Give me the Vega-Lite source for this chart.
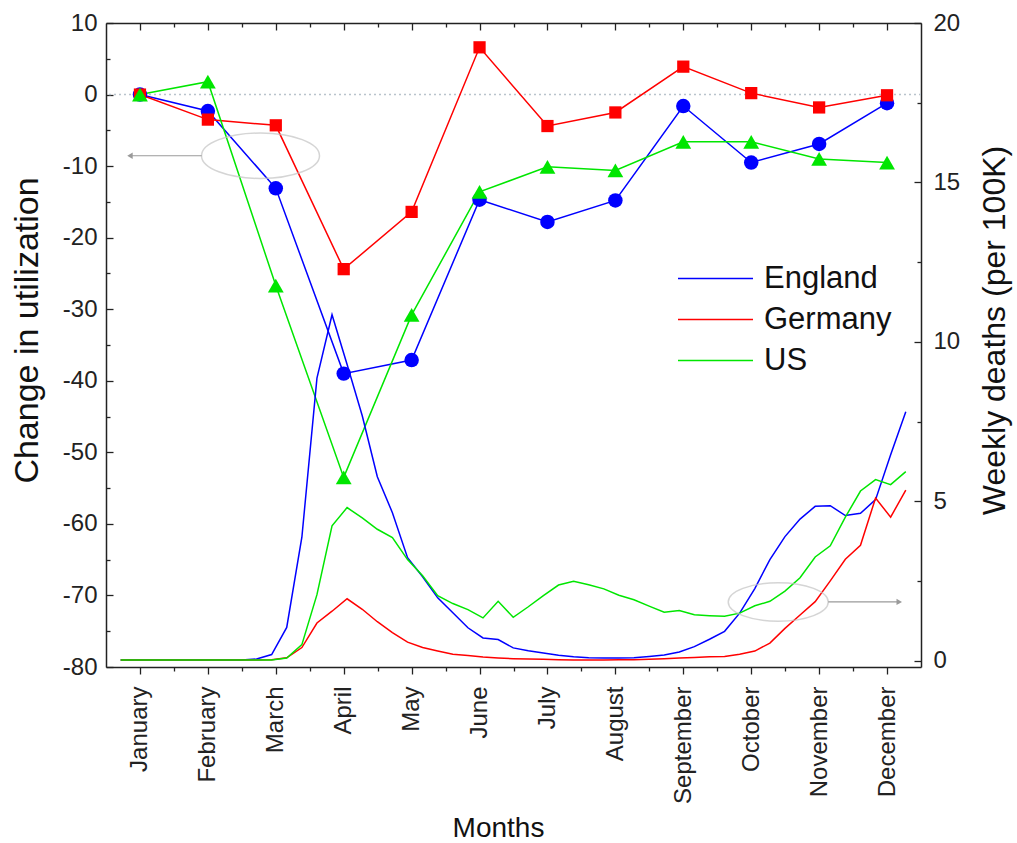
{
  "$schema": "https://vega.github.io/schema/vega-lite/v6.json",
  "width": 815,
  "height": 644,
  "autosize": {"type": "none"},
  "padding": {"left": 106, "top": 23, "right": 96, "bottom": 176},
  "background": "white",
  "config": {
    "view": {"stroke": null},
    "font": "Liberation Sans",
    "axis": {"domainColor": "#222222", "tickColor": "#222222", "labelColor": "#222222", "titleColor": "#111111", "grid": false, "titleFontWeight": "normal", "domainWidth": 1.5, "tickWidth": 1.3, "labelFlush": false, "labelOverlap": false},
    "legend": {"labelColor": "#111111"}
  },
  "datasets": {
    "util": [
      {"country": "England", "month": 1, "change": 0},
      {"country": "England", "month": 2, "change": -2.3},
      {"country": "England", "month": 3, "change": -13.1},
      {"country": "England", "month": 4, "change": -39.0},
      {"country": "England", "month": 5, "change": -37.1},
      {"country": "England", "month": 6, "change": -14.7},
      {"country": "England", "month": 7, "change": -17.8},
      {"country": "England", "month": 8, "change": -14.8},
      {"country": "England", "month": 9, "change": -1.6},
      {"country": "England", "month": 10, "change": -9.5},
      {"country": "England", "month": 11, "change": -6.9},
      {"country": "England", "month": 12, "change": -1.2},
      {"country": "Germany", "month": 1, "change": 0},
      {"country": "Germany", "month": 2, "change": -3.5},
      {"country": "Germany", "month": 3, "change": -4.3},
      {"country": "Germany", "month": 4, "change": -24.4},
      {"country": "Germany", "month": 5, "change": -16.4},
      {"country": "Germany", "month": 6, "change": 6.6},
      {"country": "Germany", "month": 7, "change": -4.4},
      {"country": "Germany", "month": 8, "change": -2.5},
      {"country": "Germany", "month": 9, "change": 3.9},
      {"country": "Germany", "month": 10, "change": 0.2},
      {"country": "Germany", "month": 11, "change": -1.8},
      {"country": "Germany", "month": 12, "change": -0.1},
      {"country": "US", "month": 1, "change": 0},
      {"country": "US", "month": 2, "change": 1.8},
      {"country": "US", "month": 3, "change": -26.7},
      {"country": "US", "month": 4, "change": -53.5},
      {"country": "US", "month": 5, "change": -30.8},
      {"country": "US", "month": 6, "change": -13.6},
      {"country": "US", "month": 7, "change": -10.1},
      {"country": "US", "month": 8, "change": -10.6},
      {"country": "US", "month": 9, "change": -6.6},
      {"country": "US", "month": 10, "change": -6.6},
      {"country": "US", "month": 11, "change": -9.0},
      {"country": "US", "month": 12, "change": -9.5}
    ],
    "deaths": [
      {"country": "England", "t": 0.716, "deaths": 0.02},
      {"country": "England", "t": 0.939, "deaths": 0.02},
      {"country": "England", "t": 1.161, "deaths": 0.02},
      {"country": "England", "t": 1.383, "deaths": 0.02},
      {"country": "England", "t": 1.605, "deaths": 0.02},
      {"country": "England", "t": 1.828, "deaths": 0.02},
      {"country": "England", "t": 2.050, "deaths": 0.02},
      {"country": "England", "t": 2.272, "deaths": 0.02},
      {"country": "England", "t": 2.494, "deaths": 0.02},
      {"country": "England", "t": 2.717, "deaths": 0.05},
      {"country": "England", "t": 2.939, "deaths": 0.19},
      {"country": "England", "t": 3.161, "deaths": 1.04},
      {"country": "England", "t": 3.384, "deaths": 3.87},
      {"country": "England", "t": 3.606, "deaths": 8.86},
      {"country": "England", "t": 3.828, "deaths": 10.85},
      {"country": "England", "t": 4.050, "deaths": 9.29},
      {"country": "England", "t": 4.273, "deaths": 7.68},
      {"country": "England", "t": 4.495, "deaths": 5.77},
      {"country": "England", "t": 4.717, "deaths": 4.64},
      {"country": "England", "t": 4.940, "deaths": 3.23},
      {"country": "England", "t": 5.162, "deaths": 2.63},
      {"country": "England", "t": 5.384, "deaths": 1.97},
      {"country": "England", "t": 5.607, "deaths": 1.50},
      {"country": "England", "t": 5.829, "deaths": 1.03},
      {"country": "England", "t": 6.051, "deaths": 0.71},
      {"country": "England", "t": 6.274, "deaths": 0.66},
      {"country": "England", "t": 6.496, "deaths": 0.40},
      {"country": "England", "t": 6.718, "deaths": 0.31},
      {"country": "England", "t": 6.940, "deaths": 0.24},
      {"country": "England", "t": 7.163, "deaths": 0.17},
      {"country": "England", "t": 7.385, "deaths": 0.12},
      {"country": "England", "t": 7.607, "deaths": 0.09},
      {"country": "England", "t": 7.830, "deaths": 0.08},
      {"country": "England", "t": 8.052, "deaths": 0.08},
      {"country": "England", "t": 8.274, "deaths": 0.09},
      {"country": "England", "t": 8.497, "deaths": 0.13},
      {"country": "England", "t": 8.719, "deaths": 0.18},
      {"country": "England", "t": 8.941, "deaths": 0.27},
      {"country": "England", "t": 9.163, "deaths": 0.44},
      {"country": "England", "t": 9.386, "deaths": 0.67},
      {"country": "England", "t": 9.608, "deaths": 0.92},
      {"country": "England", "t": 9.830, "deaths": 1.49},
      {"country": "England", "t": 10.053, "deaths": 2.26},
      {"country": "England", "t": 10.275, "deaths": 3.17},
      {"country": "England", "t": 10.497, "deaths": 3.89},
      {"country": "England", "t": 10.719, "deaths": 4.44},
      {"country": "England", "t": 10.942, "deaths": 4.84},
      {"country": "England", "t": 11.164, "deaths": 4.86},
      {"country": "England", "t": 11.386, "deaths": 4.55},
      {"country": "England", "t": 11.609, "deaths": 4.62},
      {"country": "England", "t": 11.831, "deaths": 5.05},
      {"country": "England", "t": 12.053, "deaths": 6.46},
      {"country": "England", "t": 12.276, "deaths": 7.81},
      {"country": "Germany", "t": 0.716, "deaths": 0.02},
      {"country": "Germany", "t": 0.939, "deaths": 0.02},
      {"country": "Germany", "t": 1.161, "deaths": 0.02},
      {"country": "Germany", "t": 1.383, "deaths": 0.02},
      {"country": "Germany", "t": 1.605, "deaths": 0.02},
      {"country": "Germany", "t": 1.828, "deaths": 0.02},
      {"country": "Germany", "t": 2.050, "deaths": 0.02},
      {"country": "Germany", "t": 2.272, "deaths": 0.02},
      {"country": "Germany", "t": 2.494, "deaths": 0.02},
      {"country": "Germany", "t": 2.717, "deaths": 0.02},
      {"country": "Germany", "t": 2.939, "deaths": 0.03},
      {"country": "Germany", "t": 3.161, "deaths": 0.09},
      {"country": "Germany", "t": 3.384, "deaths": 0.41},
      {"country": "Germany", "t": 3.606, "deaths": 1.18},
      {"country": "Germany", "t": 3.828, "deaths": 1.55},
      {"country": "Germany", "t": 4.050, "deaths": 1.94},
      {"country": "Germany", "t": 4.273, "deaths": 1.61},
      {"country": "Germany", "t": 4.495, "deaths": 1.22},
      {"country": "Germany", "t": 4.717, "deaths": 0.88},
      {"country": "Germany", "t": 4.940, "deaths": 0.58},
      {"country": "Germany", "t": 5.162, "deaths": 0.41},
      {"country": "Germany", "t": 5.384, "deaths": 0.30},
      {"country": "Germany", "t": 5.607, "deaths": 0.20},
      {"country": "Germany", "t": 5.829, "deaths": 0.16},
      {"country": "Germany", "t": 6.051, "deaths": 0.11},
      {"country": "Germany", "t": 6.274, "deaths": 0.08},
      {"country": "Germany", "t": 6.496, "deaths": 0.06},
      {"country": "Germany", "t": 6.718, "deaths": 0.05},
      {"country": "Germany", "t": 6.940, "deaths": 0.04},
      {"country": "Germany", "t": 7.163, "deaths": 0.03},
      {"country": "Germany", "t": 7.385, "deaths": 0.02},
      {"country": "Germany", "t": 7.607, "deaths": 0.02},
      {"country": "Germany", "t": 7.830, "deaths": 0.02},
      {"country": "Germany", "t": 8.052, "deaths": 0.03},
      {"country": "Germany", "t": 8.274, "deaths": 0.03},
      {"country": "Germany", "t": 8.497, "deaths": 0.04},
      {"country": "Germany", "t": 8.719, "deaths": 0.06},
      {"country": "Germany", "t": 8.941, "deaths": 0.08},
      {"country": "Germany", "t": 9.163, "deaths": 0.10},
      {"country": "Germany", "t": 9.386, "deaths": 0.12},
      {"country": "Germany", "t": 9.608, "deaths": 0.13},
      {"country": "Germany", "t": 9.830, "deaths": 0.20},
      {"country": "Germany", "t": 10.053, "deaths": 0.30},
      {"country": "Germany", "t": 10.275, "deaths": 0.55},
      {"country": "Germany", "t": 10.497, "deaths": 1.01},
      {"country": "Germany", "t": 10.719, "deaths": 1.43},
      {"country": "Germany", "t": 10.942, "deaths": 1.85},
      {"country": "Germany", "t": 11.164, "deaths": 2.50},
      {"country": "Germany", "t": 11.386, "deaths": 3.18},
      {"country": "Germany", "t": 11.609, "deaths": 3.62},
      {"country": "Germany", "t": 11.831, "deaths": 5.10},
      {"country": "Germany", "t": 12.053, "deaths": 4.50},
      {"country": "Germany", "t": 12.276, "deaths": 5.35},
      {"country": "US", "t": 0.716, "deaths": 0.02},
      {"country": "US", "t": 0.939, "deaths": 0.02},
      {"country": "US", "t": 1.161, "deaths": 0.02},
      {"country": "US", "t": 1.383, "deaths": 0.02},
      {"country": "US", "t": 1.605, "deaths": 0.02},
      {"country": "US", "t": 1.828, "deaths": 0.02},
      {"country": "US", "t": 2.050, "deaths": 0.02},
      {"country": "US", "t": 2.272, "deaths": 0.02},
      {"country": "US", "t": 2.494, "deaths": 0.02},
      {"country": "US", "t": 2.717, "deaths": 0.02},
      {"country": "US", "t": 2.939, "deaths": 0.02},
      {"country": "US", "t": 3.161, "deaths": 0.08},
      {"country": "US", "t": 3.384, "deaths": 0.50},
      {"country": "US", "t": 3.606, "deaths": 2.07},
      {"country": "US", "t": 3.828, "deaths": 4.23},
      {"country": "US", "t": 4.050, "deaths": 4.80},
      {"country": "US", "t": 4.273, "deaths": 4.48},
      {"country": "US", "t": 4.495, "deaths": 4.12},
      {"country": "US", "t": 4.717, "deaths": 3.86},
      {"country": "US", "t": 4.940, "deaths": 3.17},
      {"country": "US", "t": 5.162, "deaths": 2.66},
      {"country": "US", "t": 5.384, "deaths": 2.04},
      {"country": "US", "t": 5.607, "deaths": 1.79},
      {"country": "US", "t": 5.829, "deaths": 1.60},
      {"country": "US", "t": 6.051, "deaths": 1.34},
      {"country": "US", "t": 6.274, "deaths": 1.86},
      {"country": "US", "t": 6.496, "deaths": 1.36},
      {"country": "US", "t": 6.718, "deaths": 1.69},
      {"country": "US", "t": 6.940, "deaths": 2.04},
      {"country": "US", "t": 7.163, "deaths": 2.37},
      {"country": "US", "t": 7.385, "deaths": 2.49},
      {"country": "US", "t": 7.607, "deaths": 2.38},
      {"country": "US", "t": 7.830, "deaths": 2.25},
      {"country": "US", "t": 8.052, "deaths": 2.05},
      {"country": "US", "t": 8.274, "deaths": 1.91},
      {"country": "US", "t": 8.497, "deaths": 1.71},
      {"country": "US", "t": 8.719, "deaths": 1.52},
      {"country": "US", "t": 8.941, "deaths": 1.57},
      {"country": "US", "t": 9.163, "deaths": 1.44},
      {"country": "US", "t": 9.386, "deaths": 1.41},
      {"country": "US", "t": 9.608, "deaths": 1.39},
      {"country": "US", "t": 9.830, "deaths": 1.49},
      {"country": "US", "t": 10.053, "deaths": 1.72},
      {"country": "US", "t": 10.275, "deaths": 1.86},
      {"country": "US", "t": 10.497, "deaths": 2.18},
      {"country": "US", "t": 10.719, "deaths": 2.60},
      {"country": "US", "t": 10.942, "deaths": 3.25},
      {"country": "US", "t": 11.164, "deaths": 3.60},
      {"country": "US", "t": 11.386, "deaths": 4.50},
      {"country": "US", "t": 11.609, "deaths": 5.32},
      {"country": "US", "t": 11.831, "deaths": 5.68},
      {"country": "US", "t": 12.053, "deaths": 5.52},
      {"country": "US", "t": 12.276, "deaths": 5.93}
    ],
    "annL": [{"x": 2.775, "y": -8.55, "xa": 1.909, "xt": 0.853}],
    "annR": [{"x": 10.398, "y": 1.84, "xa": 11.134, "xt": 12.18}]
  },
  "layer": [
    {
      "layer": [
        {
          "data": {"values": [{"v": 0}]},
          "mark": {"type": "rule", "color": "#b9c3cc", "strokeDash": [2, 3], "strokeWidth": 1.5},
          "encoding": {
            "y": {"field": "v", "type": "quantitative", "scale": {"domain": [-80, 10], "nice": false, "zero": false}}
          }
        },
        {
          "data": {"name": "util"},
          "mark": {"type": "line", "strokeWidth": 1.5},
          "encoding": {
            "x": {
              "field": "month", "type": "quantitative",
              "scale": {"domain": [0.5, 12.5], "nice": false, "zero": false},
              "axis": {
                "orient": "bottom", "values": [1, 2, 3, 4, 5, 6, 7, 8, 9, 10, 11, 12],
                "tickSize": 7, "labelAngle": -90, "labelAlign": "right", "labelBaseline": "middle",
                "labelPadding": 12, "labelFontSize": 24,
                "labelExpr": "['January','February','March','April','May','June','July','August','September','October','November','December'][round(datum.value)-1]",
                "title": "Months", "titleFontSize": 28, "titleX": 392, "titleY": 161, "titleAlign": "center", "titleBaseline": "middle"
              }
            },
            "y": {
              "field": "change", "type": "quantitative",
              "scale": {"domain": [-80, 10], "nice": false, "zero": false},
              "axis": {
                "orient": "left", "values": [-80, -70, -60, -50, -40, -30, -20, -10, 0, 10],
                "labelExpr": "'' + datum.value",
                "tickSize": -7, "labelPadding": 16, "labelFontSize": 24,
                "title": "Change in utilization", "titleFontSize": 34, "titleAngle": -90,
                "titleX": -79, "titleY": 307, "titleAlign": "center", "titleBaseline": "middle"
              }
            },
            "color": {
              "field": "country", "type": "nominal",
              "scale": {"domain": ["England", "Germany", "US"], "range": ["#0000ff", "#ff0000", "#00e600"]},
              "legend": {
                "orient": "none", "legendX": 594, "legendY": 240, "title": null,
                "symbolType": "M-5,0L5,0", "symbolSize": 225, "symbolStrokeWidth": 1.5,
                "labelFontSize": 31, "labelOffset": 33, "rowPadding": 9, "labelLimit": 0
              }
            }
          }
        },
        {
          "data": {"name": "util"},
          "transform": [{"filter": "datum.country === 'England'"}],
          "mark": {"type": "point", "shape": "circle", "filled": true, "color": "#0000ff", "size": 210, "opacity": 1, "strokeWidth": 0},
          "encoding": {
            "x": {"field": "month", "type": "quantitative", "scale": {"domain": [0.5, 12.5], "nice": false, "zero": false}},
            "y": {"field": "change", "type": "quantitative", "scale": {"domain": [-80, 10], "nice": false, "zero": false}}
          }
        },
        {
          "data": {"name": "util"},
          "transform": [{"filter": "datum.country === 'Germany'"}],
          "mark": {"type": "point", "shape": "square", "filled": true, "color": "#ff0000", "size": 150, "opacity": 1, "strokeWidth": 0},
          "encoding": {
            "x": {"field": "month", "type": "quantitative", "scale": {"domain": [0.5, 12.5], "nice": false, "zero": false}},
            "y": {"field": "change", "type": "quantitative", "scale": {"domain": [-80, 10], "nice": false, "zero": false}}
          }
        },
        {
          "data": {"name": "util"},
          "transform": [{"filter": "datum.country === 'US'"}],
          "mark": {"type": "point", "shape": "triangle-up", "filled": true, "color": "#00e600", "size": 250, "opacity": 1, "strokeWidth": 0},
          "encoding": {
            "x": {"field": "month", "type": "quantitative", "scale": {"domain": [0.5, 12.5], "nice": false, "zero": false}},
            "y": {"field": "change", "type": "quantitative", "scale": {"domain": [-80, 10], "nice": false, "zero": false}}
          }
        },
        {
          "data": {"name": "annL"},
          "mark": {"type": "point", "filled": false, "stroke": "#c4c4c4", "strokeWidth": 1.5, "size": 13924, "shape": "M-1,0C-1,-0.213,-0.552,-0.385,0,-0.385C0.552,-0.385,1,-0.213,1,0C1,0.213,0.552,0.385,0,0.385C-0.552,0.385,-1,0.213,-1,0Z"},
          "encoding": {
            "x": {"field": "x", "type": "quantitative", "scale": {"domain": [0.5, 12.5], "nice": false, "zero": false}},
            "y": {"field": "y", "type": "quantitative", "scale": {"domain": [-80, 10], "nice": false, "zero": false}}
          }
        },
        {
          "data": {"name": "annL"},
          "mark": {"type": "rule", "color": "#9a9a9a", "strokeWidth": 1.2},
          "encoding": {
            "x": {"field": "xa", "type": "quantitative", "scale": {"domain": [0.5, 12.5], "nice": false, "zero": false}},
            "x2": {"field": "xt"},
            "y": {"field": "y", "type": "quantitative", "scale": {"domain": [-80, 10], "nice": false, "zero": false}}
          }
        },
        {
          "data": {"name": "annL"},
          "mark": {"type": "point", "filled": true, "color": "#9a9a9a", "shape": "triangle-left", "size": 40, "opacity": 1},
          "encoding": {
            "x": {"field": "xt", "type": "quantitative", "scale": {"domain": [0.5, 12.5], "nice": false, "zero": false}},
            "y": {"field": "y", "type": "quantitative", "scale": {"domain": [-80, 10], "nice": false, "zero": false}}
          }
        }
      ]
    },
    {
      "layer": [
        {
          "data": {"name": "deaths"},
          "mark": {"type": "line", "strokeWidth": 1.5},
          "encoding": {
            "x": {
              "field": "t", "type": "quantitative",
              "scale": {"domain": [0.5, 12.5], "nice": false, "zero": false},
              "axis": {"orient": "top", "values": [1, 2, 3, 4, 5, 6, 7, 8, 9, 10, 11, 12], "tickSize": -7, "labels": false, "title": null, "domain": true}
            },
            "y": {
              "field": "deaths", "type": "quantitative",
              "scale": {"domain": [-0.2, 20], "nice": false, "zero": false},
              "axis": {
                "orient": "right", "values": [0, 5, 10, 15, 20],
                "tickSize": -7, "labelPadding": 19, "labelFontSize": 24,
                "title": "Weekly deaths (per 100K)", "titleFontSize": 32, "titleAngle": -90,
                "titleX": 73, "titleY": 307, "titleAlign": "center", "titleBaseline": "middle"
              }
            },
            "color": {
              "field": "country", "type": "nominal",
              "scale": {"domain": ["England", "Germany", "US"], "range": ["#0000ff", "#ff0000", "#00e600"]},
              "legend": {
                "orient": "none", "legendX": 594, "legendY": 240, "title": null,
                "symbolType": "M-5,0L5,0", "symbolSize": 225, "symbolStrokeWidth": 1.5,
                "labelFontSize": 31, "labelOffset": 33, "rowPadding": 9, "labelLimit": 0
              }
            }
          }
        },
        {
          "data": {"name": "annR"},
          "mark": {"type": "point", "filled": false, "stroke": "#c4c4c4", "strokeWidth": 1.5, "size": 10000, "shape": "M-1,0C-1,-0.213,-0.552,-0.385,0,-0.385C0.552,-0.385,1,-0.213,1,0C1,0.213,0.552,0.385,0,0.385C-0.552,0.385,-1,0.213,-1,0Z"},
          "encoding": {
            "x": {"field": "x", "type": "quantitative", "scale": {"domain": [0.5, 12.5], "nice": false, "zero": false}},
            "y": {"field": "y", "type": "quantitative", "scale": {"domain": [-0.2, 20], "nice": false, "zero": false}}
          }
        },
        {
          "data": {"name": "annR"},
          "mark": {"type": "rule", "color": "#9a9a9a", "strokeWidth": 1.2},
          "encoding": {
            "x": {"field": "xa", "type": "quantitative", "scale": {"domain": [0.5, 12.5], "nice": false, "zero": false}},
            "x2": {"field": "xt"},
            "y": {"field": "y", "type": "quantitative", "scale": {"domain": [-0.2, 20], "nice": false, "zero": false}}
          }
        },
        {
          "data": {"name": "annR"},
          "mark": {"type": "point", "filled": true, "color": "#9a9a9a", "shape": "triangle-right", "size": 40, "opacity": 1},
          "encoding": {
            "x": {"field": "xt", "type": "quantitative", "scale": {"domain": [0.5, 12.5], "nice": false, "zero": false}},
            "y": {"field": "y", "type": "quantitative", "scale": {"domain": [-0.2, 20], "nice": false, "zero": false}}
          }
        }
      ]
    },
    {
      "data": {"values": [{"a": 1, "b": 0}]},
      "mark": {"type": "point", "opacity": 0},
      "encoding": {
        "x": {
          "field": "a", "type": "quantitative",
          "scale": {"domain": [0.5, 12.5], "nice": false, "zero": false},
          "axis": {"orient": "bottom", "values": [1.5, 2.5, 3.5, 4.5, 5.5, 6.5, 7.5, 8.5, 9.5, 10.5, 11.5], "tickSize": 4, "labels": false, "domain": false, "title": null}
        },
        "y": {
          "field": "b", "type": "quantitative",
          "scale": {"domain": [-80, 10], "nice": false, "zero": false},
          "axis": {"orient": "left", "values": [-75, -65, -55, -45, -35, -25, -15, -5, 5], "tickSize": -4, "labels": false, "domain": false, "title": null}
        }
      }
    },
    {
      "data": {"values": [{"a": 1, "b": 0}]},
      "mark": {"type": "point", "opacity": 0},
      "encoding": {
        "x": {
          "field": "a", "type": "quantitative",
          "scale": {"domain": [0.5, 12.5], "nice": false, "zero": false},
          "axis": {"orient": "top", "values": [1.5, 2.5, 3.5, 4.5, 5.5, 6.5, 7.5, 8.5, 9.5, 10.5, 11.5], "tickSize": -4, "labels": false, "domain": false, "title": null}
        },
        "y": {
          "field": "b", "type": "quantitative",
          "scale": {"domain": [-0.2, 20], "nice": false, "zero": false},
          "axis": {"orient": "right", "values": [2.5, 7.5, 12.5, 17.5], "tickSize": -4, "labels": false, "domain": false, "title": null}
        }
      }
    }
  ],
  "resolve": {"scale": {"y": "independent"}, "axis": {"x": "independent", "y": "independent"}}
}
